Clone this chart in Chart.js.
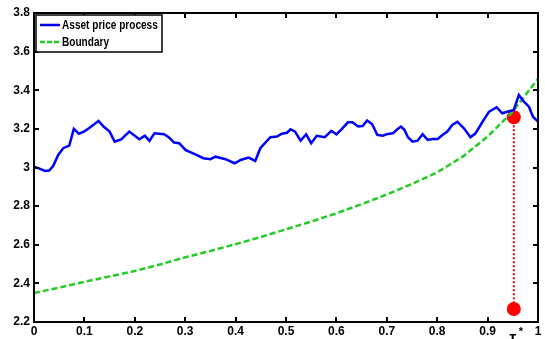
<!DOCTYPE html>
<html>
<head>
<meta charset="utf-8">
<script src="https://cdn.jsdelivr.net/npm/chart.js@4/dist/chart.umd.min.js"></script>
<style>
  html, body { margin: 0; padding: 0; background: #fff; }
  canvas { display: block; }
</style>
</head>
<body>
<canvas id="stopChart" width="545" height="339"></canvas>
<script>
// asset price path (time, price)
const priceT = [
  0, 0.012, 0.022, 0.03, 0.038, 0.048, 0.058, 0.07, 0.079, 0.089,
  0.099, 0.109, 0.128, 0.138, 0.15, 0.16, 0.173, 0.189, 0.209, 0.22,
  0.229, 0.239, 0.258, 0.268, 0.278, 0.288, 0.301, 0.318, 0.336, 0.35,
  0.36, 0.38, 0.398, 0.41, 0.426, 0.439, 0.449, 0.469, 0.482, 0.492,
  0.502, 0.509, 0.518, 0.529, 0.54, 0.55, 0.561, 0.577, 0.59, 0.6,
  0.61, 0.623, 0.632, 0.643, 0.652, 0.661, 0.671, 0.681, 0.692, 0.702,
  0.712, 0.721, 0.728, 0.735, 0.742, 0.751, 0.761, 0.771, 0.781, 0.791,
  0.801, 0.811, 0.82, 0.83, 0.84, 0.853, 0.866, 0.876, 0.89, 0.903,
  0.918, 0.929, 0.939, 0.952, 0.962, 0.972, 0.982, 0.99, 1.0
];
const priceV = [
  3.004, 2.993, 2.982, 2.984, 3.008, 3.065, 3.10, 3.113, 3.20, 3.175,
  3.186, 3.203, 3.241, 3.212, 3.186, 3.134, 3.146, 3.186, 3.146, 3.165,
  3.138, 3.177, 3.172, 3.155, 3.129, 3.126, 3.09, 3.07, 3.048, 3.043,
  3.056, 3.043, 3.022, 3.039, 3.051, 3.034, 3.10, 3.157, 3.16, 3.175,
  3.18, 3.198, 3.186, 3.139, 3.172, 3.126, 3.164, 3.157, 3.19, 3.172,
  3.198, 3.234, 3.234, 3.212, 3.215, 3.243, 3.224, 3.169, 3.165, 3.174,
  3.177, 3.198, 3.212, 3.195, 3.157, 3.134, 3.139, 3.172, 3.143, 3.148,
  3.148, 3.169, 3.186, 3.22, 3.237, 3.203, 3.157, 3.177, 3.237, 3.289,
  3.312, 3.281, 3.289, 3.298, 3.376, 3.341, 3.315, 3.263, 3.237
];

// optimal stopping boundary
const boundaryT = [0, 0.05, 0.1, 0.15, 0.2, 0.25, 0.3, 0.35, 0.4, 0.45, 0.5,
  0.55, 0.6, 0.65, 0.7, 0.75, 0.8, 0.85, 0.9, 0.95, 1.0];
const boundaryV = [2.35, 2.378, 2.408, 2.436, 2.464, 2.498, 2.535, 2.568, 2.603, 2.64, 2.68,
  2.72, 2.763, 2.81, 2.86, 2.915, 2.975, 3.055, 3.16, 3.29, 3.46];

// stopping time marker
const stopT = [0.952, 0.952];
const stopV = [3.26, 2.267];

const seriesLabels = ["Asset price process", "Boundary"];
const xTickLabels = ["0", "0.1", "0.2", "0.3", "0.4", "0.5", "0.6", "0.7", "0.8", "0.9", "1"];
const yTickLabels = ["2.2", "2.4", "2.6", "2.8", "3", "3.2", "3.4", "3.6", "3.8"];
const stopLabel = "\u03c4";

const FONT = "'Liberation Sans', Arial, sans-serif";
const BLUE = "#0000ff";
const GREEN = "#22cc22";
const RED = "#ff0000";

const toPoints = (xs, ys) => xs.map((x, i) => ({ x: x, y: ys[i] }));

// box, inward ticks, legend and tau* label (matlab style)
const framePlugin = {
  id: "frame",
  afterDraw(chart) {
    const ctx = chart.ctx;
    const { left, right, top, bottom } = chart.chartArea;
    const xs = chart.scales.x, ys = chart.scales.y;
    ctx.save();
    ctx.strokeStyle = "#000";
    ctx.lineWidth = 2;
    ctx.strokeRect(left, top, right - left, bottom - top);

    ctx.beginPath();
    xs.ticks.forEach(t => {
      const p = Math.round(xs.getPixelForValue(t.value));
      ctx.moveTo(p, bottom); ctx.lineTo(p, bottom - 5);
      ctx.moveTo(p, top); ctx.lineTo(p, top + 5);
    });
    ys.ticks.forEach(t => {
      const p = Math.round(ys.getPixelForValue(t.value));
      ctx.moveTo(left, p); ctx.lineTo(left + 5, p);
      ctx.moveTo(right, p); ctx.lineTo(right - 5, p);
    });
    ctx.stroke();

    // legend
    const lx = left + 2, ly = top + 2, lw = 126, lh = 37;
    ctx.fillStyle = "#fff";
    ctx.fillRect(lx, ly, lw, lh);
    ctx.lineWidth = 1.5;
    ctx.strokeRect(lx, ly, lw, lh);
    const rows = [
      { color: BLUE, dash: [], y: ly + 10 },
      { color: GREEN, dash: [5, 2], y: ly + 27 }
    ];
    rows.forEach((r, i) => {
      ctx.beginPath();
      ctx.setLineDash(r.dash);
      ctx.strokeStyle = r.color;
      ctx.lineWidth = 2.5;
      ctx.moveTo(lx + 4, r.y);
      ctx.lineTo(lx + 24, r.y);
      ctx.stroke();
      ctx.setLineDash([]);
      ctx.fillStyle = "#000";
      ctx.font = "bold 12px " + FONT;
      ctx.textBaseline = "middle";
      ctx.textAlign = "left";
      const w = ctx.measureText(seriesLabels[i]).width * 0.84;
      ctx.fillText(seriesLabels[i], lx + 26, r.y + 1, w);
    });

    // tau* under the stopping time
    const sx = xs.getPixelForValue(stopT[0]);
    ctx.fillStyle = "#000";
    ctx.textBaseline = "alphabetic";
    ctx.textAlign = "center";
    ctx.font = "bold 15px " + FONT;
    ctx.fillText(stopLabel, sx - 1, bottom + 20);
    ctx.font = "bold 11px " + FONT;
    ctx.fillText("*", sx + 7, bottom + 13);
    ctx.restore();
  }
};

new Chart(document.getElementById("stopChart"), {
  type: "scatter",
  data: {
    datasets: [
      {
        label: seriesLabels[0],
        data: toPoints(priceT, priceV),
        showLine: true,
        borderColor: BLUE,
        borderWidth: 2.5,
        pointRadius: 0,
        tension: 0
      },
      {
        label: seriesLabels[1],
        data: toPoints(boundaryT, boundaryV),
        showLine: true,
        borderColor: GREEN,
        borderWidth: 2.5,
        borderDash: [6, 3],
        pointRadius: 0,
        tension: 0
      },
      {
        label: "stop",
        data: toPoints(stopT, stopV),
        showLine: true,
        borderColor: RED,
        borderWidth: 2,
        borderDash: [2, 2],
        pointRadius: 7,
        pointBackgroundColor: RED,
        pointBorderColor: RED,
        pointBorderWidth: 0
      }
    ]
  },
  options: {
    responsive: false,
    animation: false,
    devicePixelRatio: 1,
    layout: { padding: { top: 13, right: 3, left: 0, bottom: 0 } },
    plugins: { legend: { display: false }, tooltip: { enabled: false } },
    scales: {
      x: {
        type: "linear",
        min: 0,
        max: 1,
        grid: { display: false, drawTicks: false },
        border: { display: false },
        ticks: {
          stepSize: 0.1,
          autoSkip: false,
          maxRotation: 0,
          padding: 2,
          color: "#000",
          font: { family: FONT, size: 12, weight: "bold" },
          callback: (v, i) => xTickLabels[i]
        },
        afterFit: s => { s.height = 17; s.paddingRight = 0; s.paddingLeft = 0; }
      },
      y: {
        min: 2.2,
        max: 3.8,
        grid: { display: false, drawTicks: false },
        border: { display: false },
        ticks: {
          stepSize: 0.2,
          autoSkip: false,
          padding: 4,
          color: "#000",
          font: { family: FONT, size: 12, weight: "bold" },
          callback: (v, i) => yTickLabels[i]
        },
        afterFit: s => { s.width = 34; }
      }
    }
  },
  plugins: [framePlugin]
});
</script>
</body>
</html>
